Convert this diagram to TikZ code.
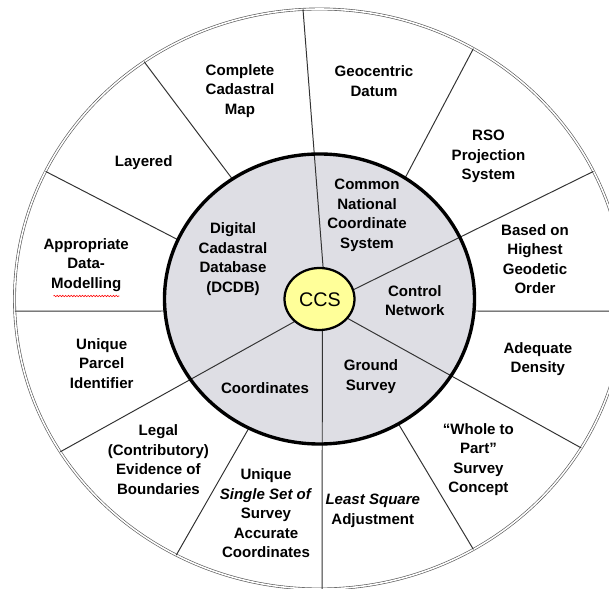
\documentclass[tikz,border=0pt]{standalone}
\usepackage{fontspec}
\setmainfont{Liberation Sans}
\usetikzlibrary{decorations.pathmorphing}
\definecolor{hubgray}{RGB}{222,222,228}
\definecolor{ccsyellow}{RGB}{255,255,153}

\begin{document}
\begin{tikzpicture}[x=0.025cm, y=0.025cm,
  spoke/.style={black!80, line width=0.7pt},
  lbl/.style={font=\bfseries\fontsize{10.7}{13.9}\selectfont, align=center, inner sep=0pt}]
\useasboundingbox (-319.5,-290) rectangle (289.5,299);
\clip (-319.5,-290) rectangle (289.5,299);

% Outer ring
\draw[black!65, double=white, double distance=1.1pt, line width=0.45pt] (0,0) ellipse [x radius=305, y radius=290];

% Spokes of the outer ring only
\foreach \a/\b in {56.5/59.7, -4.75/-2.4, 184.75/182.4, -59.4/-59.7, 242.9/242, 155.9/153.9, 124.2/125.1}
  \draw[spoke] (\a:155 and 145) -- (\b:305 and 290);

% Hub disc
\fill[hubgray] (0,0) ellipse [x radius=155, y radius=145];

% Spokes from the centre
\foreach \a/\b in {84/93.1, 17/26.1, -38/-30.9, -85.4/-89.5, 225.9/211.8}
  \draw[spoke] (\a:35 and 31) -- (\b:305 and 290);

\draw[black, line width=2.4pt] (0,0) ellipse [x radius=155, y radius=145];

% Centre
\filldraw[fill=ccsyellow, draw=black, line width=1.6pt] (0,0) ellipse [x radius=35, y radius=31];
\node[font=\fontsize{14}{16}\selectfont, inner sep=0pt] (ccs) at (0.5,-0.5) {CCS};

% Outer labels
\node[lbl] (map) at (-79.5,208) {Complete\\Cadastral\\Map};
\node[lbl] (datum) at (54.5,218) {Geocentric\\Datum};
\node[lbl] (rso) at (169,142.4) {RSO\\Projection\\System};
\node[lbl] (layered) at (-175.8,136.7) {Layered};
\node[lbl] (model) at (-233.3,34) {Appropriate\\Data-\\Modelling};
\node[lbl] (order) at (215.5,40) {Based on\\Highest\\Geodetic\\Order};
\node[lbl] (parcel) at (-217.8,-64.3) {Unique\\Parcel\\Identifier};
\node[lbl] (density) at (218.4,-60) {Adequate\\Density};
\node[lbl] (legal) at (-161.1,-160.4) {Legal\\(Contributory)\\Evidence of\\Boundaries};
\node[lbl] (whole) at (158.9,-160.6) {“Whole to\\Part”\\Survey\\Concept};
\node[lbl] (single) at (-53.5,-214.5) {Unique\\\textit{Single Set of}\\Survey\\Accurate\\Coordinates};
\node[lbl] (lsa) at (53.3,-212) {\textit{Least Square}\\Adjustment};

% Hub labels
\node[lbl] (dcdb) at (-86.5,40) {Digital\\Cadastral\\Database\\(DCDB)};
\node[lbl] (cncs) at (47.5,83.6) {Common\\National\\Coordinate\\System};
\node[lbl] (control) at (95.3,-1.7) {Control\\Network};
\node[lbl] (ground) at (51.5,-77.6) {Ground\\Survey};
\node[lbl] (coords) at (-54.5,-88.7) {Coordinates};

% spell-check squiggle
\draw[red, line width=0.4pt, decorate, decoration={snake, amplitude=0.5pt, segment length=2pt}] (-266,3) -- (-200,3);

\end{tikzpicture}
\end{document}
